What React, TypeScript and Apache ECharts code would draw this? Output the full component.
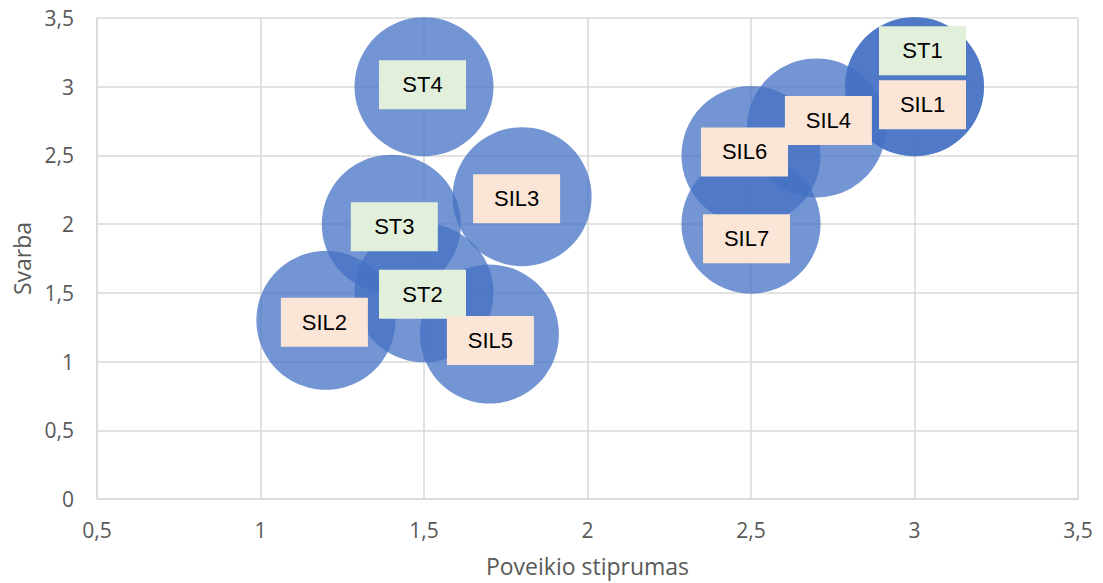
import React, { useEffect, useRef } from "react";
import * as echarts from "echarts";

const names = ["ST1", "ST2", "ST3", "ST4", "SIL1", "SIL2", "SIL3", "SIL4", "SIL5", "SIL6", "SIL7"];
const xValues = [3, 1.5, 1.4, 1.5, 3, 1.2, 1.8, 2.7, 1.7, 2.5, 2.5];
const yValues = [3, 1.5, 2, 3, 3, 1.3, 2.2, 2.7, 1.2, 2.5, 2];
const xTicks = [0.5, 1, 1.5, 2, 2.5, 3, 3.5];
const yTicks = [0, 0.5, 1, 1.5, 2, 2.5, 3, 3.5];

// label box offsets (layout only)
const labelOffsets: number[][] = [
  [8, -36], [-1.5, 1.5], [3, 2.5], [-1.5, -2],
  [8, 18], [-1.5, 2], [-5.5, 2], [12, -7.5], [1, 6.5], [-6.5, -3.5], [-4.5, 14.5],
];

const fmt = (v: number) => String(v).replace(".", ",");

export default function App() {
  const ref = useRef<HTMLDivElement>(null);
  useEffect(() => {
    if (!ref.current) return;
    const chart = echarts.init(ref.current, null, { renderer: "svg" });
    const data = names.map((n, i) => ({
      name: n,
      value: [xValues[i], yValues[i]],
      label: {
        offset: labelOffsets[i],
        backgroundColor: n.startsWith("ST") ? "#E2EFDA" : "#FBE5D6",
      },
    }));
    chart.setOption({
      animation: false,
      backgroundColor: "#FFFFFF",
      grid: { left: 97, top: 18, right: 25, bottom: 84, containLabel: false },
      xAxis: {
        type: "value",
        min: xTicks[0],
        max: xTicks[xTicks.length - 1],
        interval: 0.5,
        name: "Poveikio stiprumas",
        nameLocation: "middle",
        nameGap: 55,
        nameTextStyle: { color: "#595959", fontSize: 23, fontFamily: "Open Sans" },
        axisLine: { show: true, lineStyle: { color: "#D9D9D9", width: 1.5 } },
        axisTick: { show: false },
        axisLabel: {
          color: "#595959",
          fontSize: 21,
          fontFamily: "Open Sans",
          margin: 20,
          formatter: fmt,
        },
        splitLine: { show: true, lineStyle: { color: "#D9D9D9", width: 1.5 } },
      },
      yAxis: {
        type: "value",
        min: yTicks[0],
        max: yTicks[yTicks.length - 1],
        interval: 0.5,
        name: "Svarba",
        nameLocation: "middle",
        nameRotate: 90,
        nameGap: 62,
        nameTextStyle: { color: "#595959", fontSize: 23, fontFamily: "Open Sans" },
        axisLine: { show: true, lineStyle: { color: "#D9D9D9", width: 1.5 } },
        axisTick: { show: false },
        axisLabel: {
          color: "#595959",
          fontSize: 21,
          fontFamily: "Open Sans",
          margin: 23,
          formatter: fmt,
        },
        splitLine: { show: true, lineStyle: { color: "#D9D9D9", width: 1.5 } },
      },
      series: [
        {
          type: "scatter",
          symbol: "circle",
          symbolSize: 139,
          itemStyle: { color: "rgba(68,114,196,0.75)", opacity: 1 },
          label: {
            show: true,
            position: "inside",
            formatter: "{b}",
            color: "#000000",
            fontSize: 22,
            fontFamily: "Liberation Sans",
            width: 87,
            height: 49,
            lineHeight: 49,
            align: "center",
            verticalAlign: "middle",
            padding: 0,
          },
          emphasis: { disabled: true },
          data,
        },
      ],
    });
    return () => chart.dispose();
  }, []);
  return (
    <div
      ref={ref}
      style={{ position: "fixed", left: 0, top: 0, width: 1103, height: 583, background: "#fff" }}
    />
  );
}
